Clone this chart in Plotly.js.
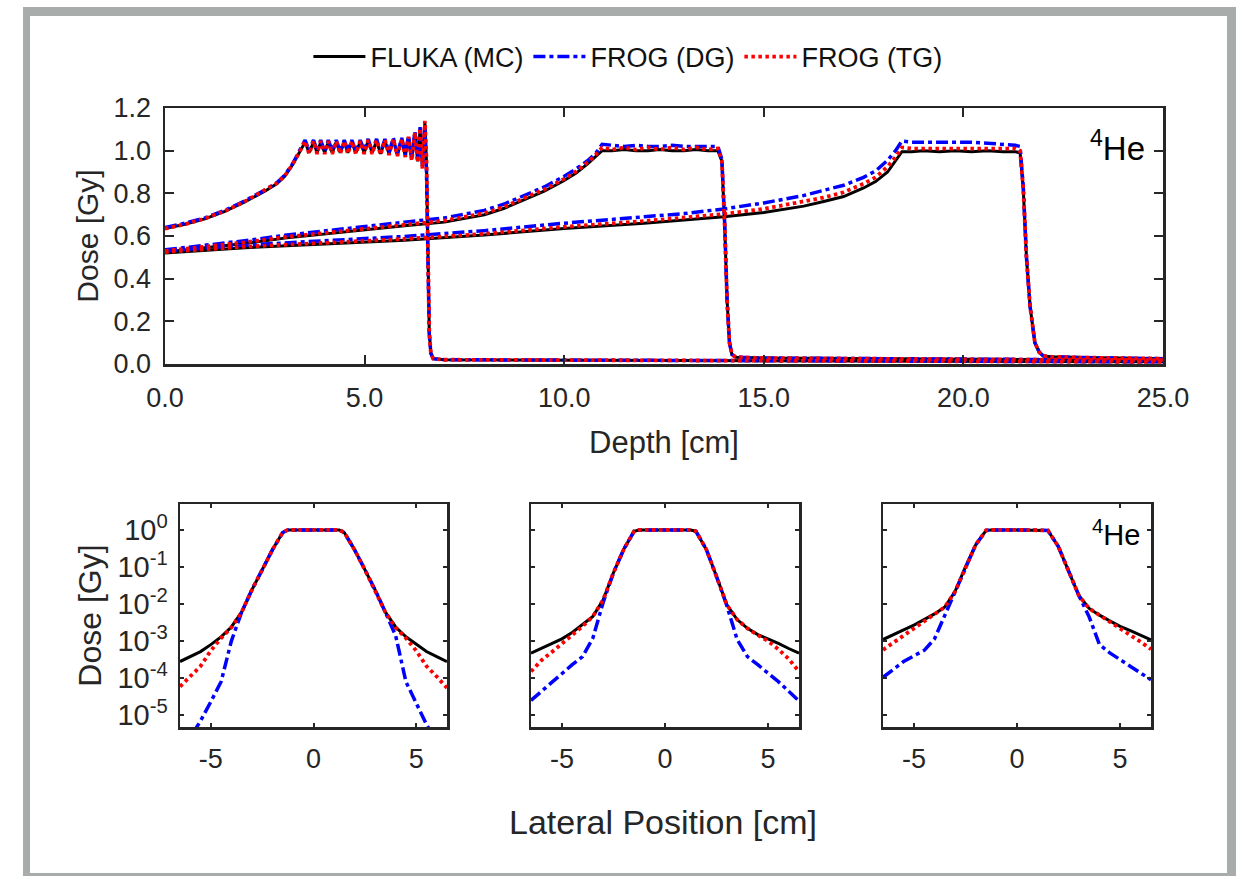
<!DOCTYPE html>
<html>
<head>
<meta charset="utf-8">
<script src="https://cdn.plot.ly/plotly-3.0.1.min.js"></script>
<style>
html,body{margin:0;padding:0;background:#ffffff;}
#chart{width:1236px;height:876px;}
</style>
</head>
<body>
<div id="chart"></div>
<script>
// ---------------- Depth-dose data (top panel) ----------------
const depthA = [0,0.5,1.0,1.5,2.0,2.5,2.8,3.0,3.2,3.35,
  3.51,3.61,3.72,3.81,3.90,4.00,4.09,4.19,4.29,4.39,4.49,4.58,4.68,4.78,4.89,4.99,5.09,5.19,5.30,5.40,5.51,5.61,5.72,5.82,5.93,6.02,6.10,6.18,6.26,6.33,6.39,6.45,6.51,
  6.55,6.58,6.62,6.66,6.72,
  7.0,10,15,20,25];
const flukaA = [0.635,0.655,0.68,0.715,0.76,0.81,0.845,0.88,0.935,0.985,
  1.04,0.99,1.04,0.99,1.04,0.99,1.04,0.99,1.04,0.99,1.04,0.99,1.04,0.99,1.04,0.99,1.045,0.99,1.045,0.985,1.045,0.985,1.05,0.98,1.05,0.975,1.06,0.96,1.08,0.95,1.10,0.92,1.13,
  0.95,0.55,0.15,0.05,0.025,
  0.02,0.018,0.015,0.012,0.01];
const dgA = [0.64,0.66,0.685,0.72,0.765,0.815,0.85,0.885,0.94,0.99,
  1.05,1.0,1.05,1.0,1.05,0.995,1.05,1.0,1.05,0.995,1.05,1.0,1.05,0.995,1.05,1.0,1.055,0.995,1.055,0.99,1.055,0.99,1.06,0.985,1.06,0.98,1.07,0.965,1.09,0.955,1.11,0.93,1.12,
  0.9,0.5,0.14,0.05,0.025,
  0.02,0.018,0.015,0.012,0.01];
const tgA = [0.635,0.655,0.682,0.717,0.762,0.812,0.847,0.882,0.937,0.987,
  1.045,0.985,1.045,0.985,1.045,0.985,1.045,0.985,1.045,0.985,1.045,0.985,1.045,0.985,1.045,0.985,1.05,0.985,1.05,0.98,1.05,0.98,1.055,0.975,1.055,0.97,1.065,0.955,1.085,0.945,1.105,0.915,1.14,
  0.96,0.55,0.15,0.05,0.025,
  0.02,0.018,0.015,0.012,0.01];

const depthB = [0,1,2,3,4,5,6,7,8,8.5,9,9.5,10,10.3,10.6,10.8,10.95,
  11.2,11.5,11.8,12.1,12.4,12.7,13.0,13.3,13.6,13.85,
  13.95,14.02,14.08,14.14,14.2,14.3,
  15,20,25];
const flukaB = [0.525,0.545,0.565,0.59,0.61,0.63,0.648,0.665,0.70,0.73,0.77,0.81,0.86,0.895,0.94,0.975,1.0,
  1.0,1.005,1.0,1.0,1.005,1.0,1.0,1.005,1.0,1.0,
  0.95,0.65,0.3,0.1,0.045,0.032,
  0.028,0.022,0.018];
const dgB = [0.535,0.555,0.578,0.603,0.625,0.645,0.665,0.685,0.72,0.75,0.79,0.83,0.88,0.915,0.955,0.99,1.03,
  1.025,1.02,1.025,1.02,1.02,1.025,1.02,1.02,1.02,1.02,
  0.96,0.66,0.3,0.1,0.045,0.032,
  0.028,0.022,0.018];
const tgB = [0.53,0.55,0.57,0.595,0.615,0.636,0.655,0.672,0.707,0.737,0.778,0.818,0.868,0.903,0.947,0.982,1.015,
  1.005,1.015,1.005,1.015,1.005,1.015,1.005,1.015,1.005,1.01,
  0.955,0.65,0.3,0.1,0.045,0.032,
  0.028,0.022,0.018];

const depthC = [0,2,4,6,8,10,12,13,14,15,16,16.5,17,17.5,17.8,18.1,18.3,18.46,
  18.7,19.0,19.4,19.8,20.2,20.6,21.0,21.3,
  21.42,21.5,21.58,21.67,21.79,21.9,22.0,22.2,
  23,25];
const flukaC = [0.52,0.545,0.563,0.58,0.605,0.635,0.66,0.675,0.69,0.71,0.74,0.762,0.785,0.825,0.855,0.9,0.95,0.995,
  0.995,1.0,0.995,1.0,0.995,1.0,0.995,0.995,
  0.99,0.82,0.5,0.27,0.1,0.055,0.038,0.034,
  0.03,0.025];
const dgC = [0.53,0.557,0.578,0.598,0.625,0.66,0.69,0.705,0.727,0.755,0.79,0.812,0.838,0.875,0.905,0.955,1.0,1.045,
  1.04,1.04,1.04,1.04,1.04,1.035,1.03,1.025,
  1.02,0.83,0.5,0.27,0.1,0.055,0.038,0.034,
  0.03,0.025];
const tgC = [0.525,0.55,0.568,0.586,0.61,0.643,0.67,0.685,0.703,0.727,0.76,0.78,0.805,0.845,0.875,0.925,0.97,1.015,
  1.01,1.01,1.012,1.01,1.012,1.01,1.012,1.01,
  1.0,0.82,0.5,0.27,0.1,0.055,0.038,0.034,
  0.03,0.025];

const depthTicks = [0,5,10,15,20,25];
const depthTickText = ['0.0','5.0','10.0','15.0','20.0','25.0'];
const doseTicks = [0,0.2,0.4,0.6,0.8,1.0,1.2];
const doseTickText = ['0.0','0.2','0.4','0.6','0.8','1.0','1.2'];

// ---------------- Lateral profile data (bottom panels) ----------------
const latX = [-6.5,-6,-5.5,-5,-4.5,-4,-3.5,-3,-2.5,-2,-1.5,-1.25,0,1.25,1.5,2,2.5,3,3.5,4,4.5,5,5.5,6,6.5];

const fluka1 = [2.8e-4,3.8e-4,5.2e-4,8.0e-4,1.3e-3,2.4e-3,6.0e-3,2.4e-2,8.5e-2,2.9e-1,8.5e-1,1.0,1.0,1.0,8.5e-1,2.9e-1,8.5e-2,2.4e-2,6.0e-3,2.4e-3,1.3e-3,8.0e-4,5.2e-4,3.8e-4,2.8e-4];
const dg1    = [9e-7,2.5e-6,7e-6,2.3e-5,8e-5,1.0e-3,6.0e-3,2.4e-2,8.5e-2,2.9e-1,8.5e-1,1.0,1.0,1.0,8.5e-1,2.9e-1,8.5e-2,2.4e-2,6.0e-3,1.4e-3,8e-5,2.0e-5,5.6e-6,2.0e-6,8e-7];
const tg1    = [5.9e-5,1.1e-4,2.1e-4,5.5e-4,1.2e-3,2.3e-3,6.0e-3,2.4e-2,8.5e-2,2.9e-1,8.5e-1,1.0,1.0,1.0,8.5e-1,2.9e-1,8.5e-2,2.4e-2,6.0e-3,2.3e-3,1.2e-3,5.5e-4,2.1e-4,1.1e-4,5.4e-5];

const fluka2 = [4.7e-4,6.3e-4,8.7e-4,1.15e-3,1.7e-3,2.8e-3,4.6e-3,1.3e-2,7e-2,3.0e-1,9.2e-1,1.0,1.0,1.0,9.2e-1,3.0e-1,5.5e-2,9.5e-3,3.8e-3,2.2e-3,1.5e-3,1.15e-3,8.7e-4,6.3e-4,4.7e-4];
const dg2    = [2.5e-5,4.4e-5,7.6e-5,1.3e-4,2.3e-4,3.8e-4,1.2e-3,1.1e-2,7e-2,3.0e-1,9.2e-1,1.0,1.0,1.0,9.2e-1,3.0e-1,5.5e-2,9.0e-3,1.1e-3,3.8e-4,2.3e-4,1.4e-4,8e-5,4.4e-5,2.4e-5];
const tg2    = [1.5e-4,3.0e-4,5.0e-4,8.5e-4,1.45e-3,2.5e-3,4.6e-3,1.3e-2,7e-2,3.0e-1,9.2e-1,1.0,1.0,1.0,9.2e-1,3.0e-1,5.5e-2,9.5e-3,3.8e-3,2.2e-3,1.45e-3,1.0e-3,6e-4,3.3e-4,1.5e-4];

const fluka3 = [1.1e-3,1.45e-3,2.0e-3,2.7e-3,3.8e-3,5.4e-3,8.3e-3,2.2e-2,1.0e-1,4.0e-1,9.7e-1,1.0,1.0,1.0,9.7e-1,3.6e-1,8e-2,1.7e-2,7.6e-3,5.0e-3,3.5e-3,2.5e-3,1.9e-3,1.45e-3,1.07e-3];
const dg3    = [1.05e-4,1.7e-4,2.8e-4,4e-4,5.6e-4,1.15e-3,5e-3,2.2e-2,1.0e-1,4.0e-1,9.7e-1,1.0,1.0,1.0,9.7e-1,3.6e-1,8e-2,1.7e-2,4.5e-3,8e-4,4.8e-4,3.2e-4,2.1e-4,1.4e-4,9e-5];
const tg3    = [5.8e-4,9e-4,1.35e-3,2.2e-3,3.4e-3,5.2e-3,8.3e-3,2.2e-2,1.0e-1,4.0e-1,9.7e-1,1.0,1.0,1.0,9.7e-1,3.6e-1,8e-2,1.7e-2,7.6e-3,5.0e-3,3.4e-3,2.3e-3,1.5e-3,9.5e-4,6.0e-4];

const latTicks = [-5,0,5];
const latTickText = ['-5','0','5'];
const logTicks = [1e-5,1e-4,1e-3,1e-2,1e-1,1];
const logTickText = ['10<sup>-5</sup>','10<sup>-4</sup>','10<sup>-3</sup>','10<sup>-2</sup>','10<sup>-1</sup>','10<sup>0</sup>'];

const seriesNames = ['FLUKA (MC)','FROG (DG)','FROG (TG)'];

// ---------------- Styles ----------------
const styles = [
  {color:'#000000', dash:'solid', width:3},
  {color:'#0000ff', dash:'12px,4px,4px,4px', width:3.5},
  {color:'#ff0000', dash:'3.5px,3.5px', width:3.8}
];

function join3(a,b,c){ return a.concat([null], b, [null], c); }

const topX = join3(depthA, depthB, depthC);
const topY = [join3(flukaA, flukaB, flukaC), join3(dgA, dgB, dgC), join3(tgA, tgB, tgC)];
const latY = [[fluka1,dg1,tg1],[fluka2,dg2,tg2],[fluka3,dg3,tg3]];

const traces = [];
for (let m = 0; m < 3; m++) {
  traces.push({
    type:'scatter', mode:'lines', x: topX, y: topY[m], name: seriesNames[m],
    xaxis:'x', yaxis:'y', connectgaps:false, legendgroup: 'g'+m,
    line:{color:styles[m].color, dash:styles[m].dash, width:styles[m].width},
    hoverinfo:'skip'
  });
}
for (let p = 0; p < 3; p++) {
  for (let m = 0; m < 3; m++) {
    traces.push({
      type:'scatter', mode:'lines', x: latX, y: latY[p][m], name: seriesNames[m],
      xaxis:'x'+(p+2), yaxis:'y'+(p+2), showlegend:false, legendgroup:'g'+m,
      line:{color:styles[m].color, dash:styles[m].dash, width:styles[m].width},
      hoverinfo:'skip'
    });
  }
}

const W = 1236, H = 876;
const px = v => v / W;
const py = v => 1 - v / H;

const axBase = {
  showline:true, linecolor:'#262626', linewidth:2.5, mirror:'ticks',
  ticks:'inside', tickcolor:'#262626', tickwidth:2,
  zeroline:false, showgrid:false, fixedrange:true
};

const layout = {
  width:W, height:H, autosize:false,
  margin:{l:0,r:0,t:0,b:0},
  paper_bgcolor:'#ffffff', plot_bgcolor:'#ffffff',
  font:{family:'"Liberation Sans", Arial, sans-serif', color:'#262626', size:27},
  showlegend:true,
  legend:{orientation:'h', x:0.508, xanchor:'center', y:py(57), yanchor:'middle',
          font:{size:27, color:'#111111'}, bgcolor:'rgba(0,0,0,0)', borderwidth:0,
          itemwidth:52},
  xaxis:Object.assign({}, axBase, {
    domain:[px(165), px(1163)], range:[0,25], anchor:'y',
    tickvals:depthTicks, ticktext:depthTickText, ticklen:9,
    tickfont:{size:27}, ticklabelstandoff:8,
    title:{text:'Depth [cm]', font:{size:31}, standoff:20}
  }),
  yaxis:Object.assign({}, axBase, {
    domain:[py(364), py(108)], range:[0,1.2], anchor:'x',
    tickvals:doseTicks, ticktext:doseTickText, ticklen:9,
    tickfont:{size:27}, ticklabelstandoff:6,
    title:{text:'Dose [Gy]', font:{size:30}, standoff:6}
  }),
  xaxis2:Object.assign({}, axBase, {
    domain:[px(180), px(447)], range:[-6.5,6.5], anchor:'y2',
    tickvals:latTicks, ticktext:latTickText, ticklen:4, tickfont:{size:27}, ticklabelstandoff:6
  }),
  yaxis2:Object.assign({}, axBase, {
    domain:[py(727), py(504)], type:'log', range:[-5.32,0.70], anchor:'x2',
    tickvals:logTicks, ticktext:logTickText, ticklen:4, tickfont:{size:29}, ticklabelstandoff:4,
    title:{text:'Dose [Gy]', font:{size:32}, standoff:6}
  }),
  xaxis3:Object.assign({}, axBase, {
    domain:[px(531), px(799)], range:[-6.5,6.5], anchor:'y3',
    tickvals:latTicks, ticktext:latTickText, ticklen:4, tickfont:{size:27}, ticklabelstandoff:6
  }),
  yaxis3:Object.assign({}, axBase, {
    domain:[py(727), py(504)], type:'log', range:[-5.32,0.70], anchor:'x3',
    tickvals:logTicks, ticklen:4, showticklabels:false
  }),
  xaxis4:Object.assign({}, axBase, {
    domain:[px(883), px(1151)], range:[-6.5,6.5], anchor:'y4',
    tickvals:latTicks, ticktext:latTickText, ticklen:4, tickfont:{size:27}, ticklabelstandoff:6
  }),
  yaxis4:Object.assign({}, axBase, {
    domain:[py(727), py(504)], type:'log', range:[-5.32,0.70], anchor:'x4',
    tickvals:logTicks, ticklen:4, showticklabels:false
  }),
  annotations:[
    {text:'<sup>4</sup>He', xref:'paper', yref:'paper', x:px(1147), y:py(146),
     xanchor:'right', yanchor:'middle', showarrow:false, font:{size:33, color:'#000000'}},
    {text:'<sup>4</sup>He', xref:'paper', yref:'paper', x:px(1142), y:py(533),
     xanchor:'right', yanchor:'middle', showarrow:false, font:{size:29, color:'#000000'}},
    {text:'Lateral Position [cm]', xref:'paper', yref:'paper', x:px(663), y:py(822),
     xanchor:'center', yanchor:'middle', showarrow:false, font:{size:34, color:'#262626'}}
  ],
  shapes:[
    {type:'rect', xref:'paper', yref:'paper', x0:px(23), x1:px(30), y0:py(876), y1:py(7), fillcolor:'#a8acab', line:{width:0}},
    {type:'rect', xref:'paper', yref:'paper', x0:px(23), x1:px(1236), y0:py(16), y1:py(7), fillcolor:'#a8acab', line:{width:0}},
    {type:'rect', xref:'paper', yref:'paper', x0:px(1227), x1:px(1236), y0:py(876), y1:py(7), fillcolor:'#a8acab', line:{width:0}},
    {type:'rect', xref:'paper', yref:'paper', x0:px(23), x1:px(1236), y0:py(876), y1:py(873), fillcolor:'#a8acab', line:{width:0}}
  ]
};

Plotly.newPlot('chart', traces, layout, {displayModeBar:false, staticPlot:true});
</script>
</body>
</html>
